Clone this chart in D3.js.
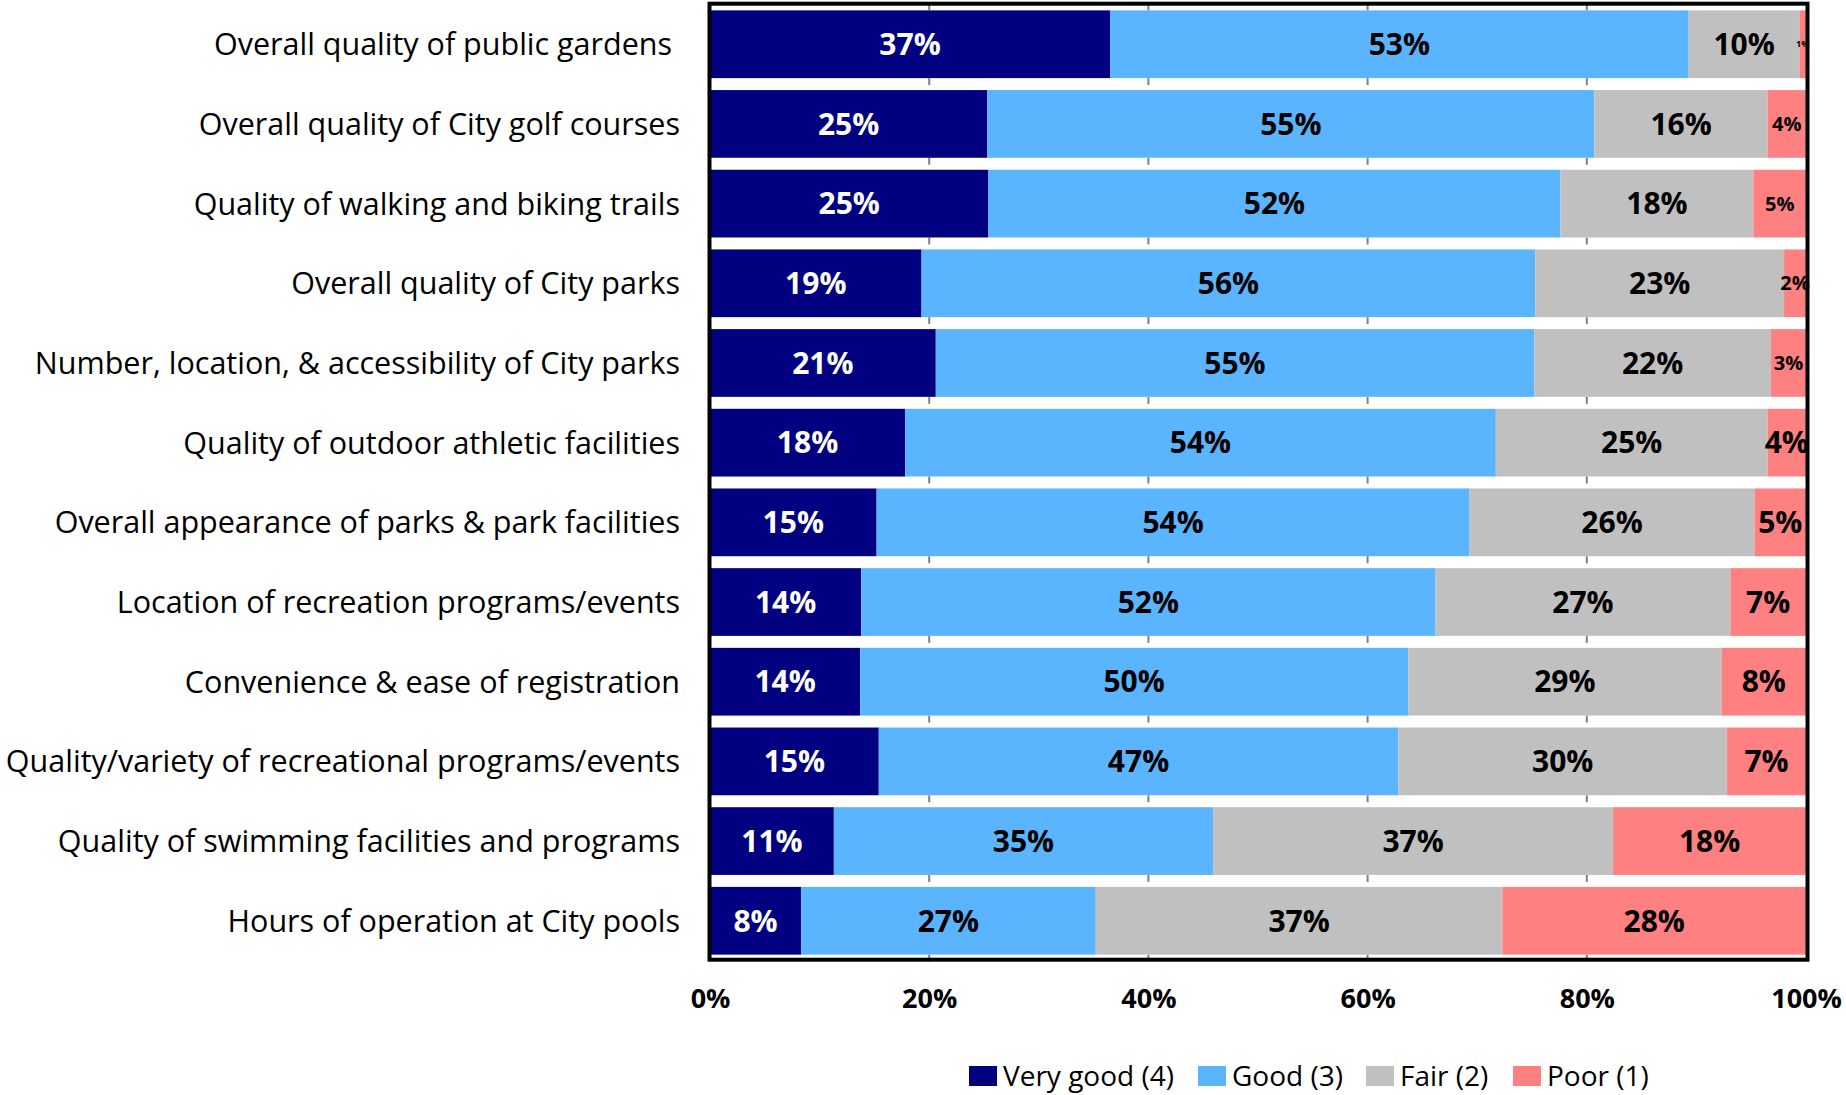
<!DOCTYPE html>
<html lang="en">
<head>
<meta charset="UTF-8">
<title>Parks and recreation ratings</title>
<style>
  body { margin: 0; background: #fff; }
  text { font-family: "Open Sans", "Noto Sans", sans-serif; }
</style>
</head>
<body>
<div id="chart"></div>

<script src="https://d3js.org/d3.v7.min.js"></script>
<script>
// categories, top to bottom
const categories = [
  "Overall quality of public gardens ",
  "Overall quality of City golf courses",
  "Quality of walking and biking trails",
  "Overall quality of City parks",
  "Number, location, & accessibility of City parks",
  "Quality of outdoor athletic facilities",
  "Overall appearance of parks & park facilities",
  "Location of recreation programs/events",
  "Convenience & ease of registration",
  "Quality/variety of recreational programs/events",
  "Quality of swimming facilities and programs",
  "Hours of operation at City pools"
];

// percent shares
const veryGood = [36.5, 25.3, 25.4, 19.3, 20.6, 17.8, 15.2, 13.8, 13.7, 15.4, 11.3, 8.3];
const good     = [52.8, 55.4, 52.2, 56.0, 54.6, 53.9, 54.1, 52.4, 50.0, 47.4, 34.6, 26.9];
const fair     = [10.1, 15.8, 17.6, 22.7, 21.6, 24.8, 26.0, 26.9, 28.6, 30.0, 36.5, 37.1];
const poor     = [ 0.6,  3.5,  4.8,  2.0,  3.2,  3.5,  4.7,  6.9,  7.7,  7.2, 17.6, 27.7];

const seriesNames = ["Very good (4)", "Good (3)", "Fair (2)", "Poor (1)"];
const xTicks = [0, 20, 40, 60, 80, 100];

const colors = ["#000080", "#5bb5fe", "#c0c0c0", "#ff8080"];
const textColors = ["#fff", "#000", "#000", "#000"];

const W = 1846, H = 1095;

const svg = d3.select("#chart").append("svg")
    .attr("width", W)
    .attr("height", H);

const x = d3.scaleLinear().domain([0, 100]).range([710, 1806]);
const y = d3.scaleBand()
    .domain(categories)
    .range([4, 961])
    .paddingInner(0.15)
    .paddingOuter(0.08);

const rows = categories.map((c, i) => ({ name: c, vals: [veryGood[i], good[i], fair[i], poor[i]] }));

// little gridline stubs that show through the gaps
const grid = svg.append("g");
xTicks.slice(1, -1).forEach(t => {
  grid.append("line")
    .attr("x1", x(t)).attr("x2", x(t))
    .attr("y1", 4).attr("y2", y(categories[0]))
    .attr("stroke", "#808080").attr("stroke-width", 2);
  categories.forEach(c => {
    grid.append("line")
      .attr("x1", x(t)).attr("x2", x(t))
      .attr("y1", y(c) + y.bandwidth()).attr("y2", y(c) + y.bandwidth() + 7)
      .attr("stroke", "#808080").attr("stroke-width", 2);
  });
});

// bars
const rowG = svg.append("g").selectAll("g")
    .data(rows)
    .join("g")
    .attr("transform", d => "translate(0," + y(d.name) + ")");

rowG.each(function(d, ri) {
  const g = d3.select(this);
  let acc = 0;
  d.vals.forEach((v, si) => {
    const x0 = acc;
    acc += v;
    g.append("rect")
      .attr("x", x(x0))
      .attr("y", 0)
      .attr("width", x(acc) - x(x0))
      .attr("height", y.bandwidth())
      .attr("fill", colors[si]);
  });
});

// frame
svg.append("rect")
    .attr("x", 709.5).attr("y", 3.7)
    .attr("width", 1098).attr("height", 956)
    .attr("fill", "none")
    .attr("stroke", "#000")
    .attr("stroke-width", 4);

// value labels (the narrow Poor segments in the top rows were set smaller)
rowG.each(function(d, ri) {
  const g = d3.select(this);
  let acc = 0;
  d.vals.forEach((v, si) => {
    const x0 = acc;
    acc += v;
    let fs = 30;
    if (si === 3 && ri === 0) fs = 9;
    else if (si === 3 && ri >= 1 && ri <= 4) fs = 20;
    g.append("text")
      .attr("x", (x(x0) + x(acc)) / 2)
      .attr("y", y.bandwidth() / 2)
      .attr("dy", "0.36em")
      .attr("text-anchor", "middle")
      .attr("font-weight", "bold")
      .attr("font-size", fs)
      .attr("fill", textColors[si])
      .text(Math.round(v) + "%");
  });
});

// category labels
svg.append("g").selectAll("text")
    .data(categories)
    .join("text")
    .attr("x", 680)
    .attr("y", d => y(d) + y.bandwidth() / 2)
    .attr("dy", "0.36em")
    .attr("text-anchor", "end")
    .attr("font-size", 30.5)
    .style("white-space", "pre")
    .attr("fill", "#000")
    .text(d => d);

// x axis labels
const xAxis = svg.append("g")
    .attr("transform", "translate(0,988)")
    .call(d3.axisBottom(x).tickValues(xTicks).tickFormat(d => d + "%").tickSize(0));
xAxis.select(".domain").remove();
xAxis.selectAll("text")
    .attr("font-family", '"Open Sans", sans-serif')
    .attr("font-size", 27)
    .attr("font-weight", "bold")
    .attr("fill", "#000")
    .attr("dy", "0.36em")
    .attr("y", 10);

// legend
const legendX = [969, 1198, 1366, 1513];
const legend = svg.append("g");
seriesNames.forEach((n, i) => {
  legend.append("rect")
    .attr("x", legendX[i]).attr("y", 1066)
    .attr("width", 28).attr("height", 20)
    .attr("fill", colors[i]);
  legend.append("text")
    .attr("x", legendX[i] + 34).attr("y", 1076)
    .attr("dy", "0.36em")
    .attr("font-size", 28)
    .attr("fill", "#000")
    .text(n);
});
</script>
</body>
</html>
